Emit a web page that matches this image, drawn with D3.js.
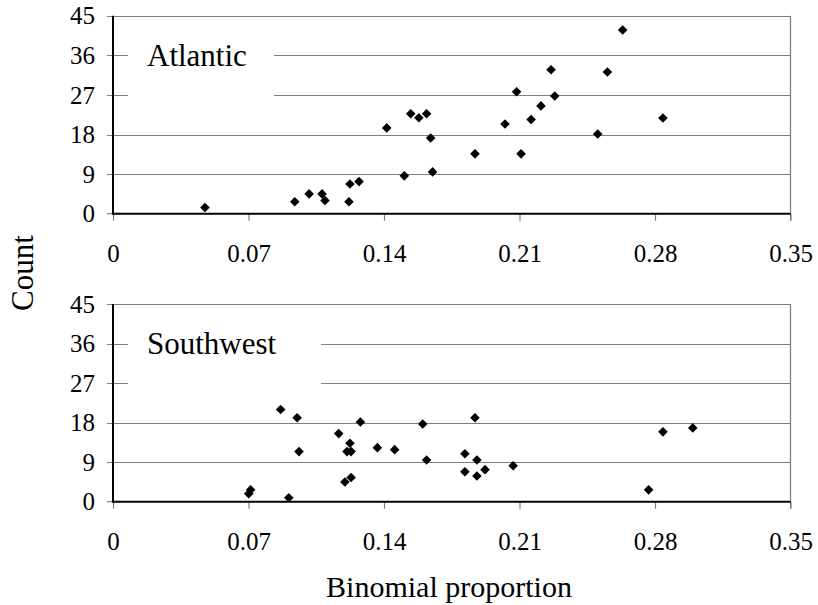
<!DOCTYPE html>
<html>
<head>
<meta charset="utf-8">
<script src="https://cdn.jsdelivr.net/npm/d3@7"></script>
</head>
<body style="margin:0">
<script>
// x = binomial proportion, y = count
var atlanticX = [0.0475, 0.0939, 0.1013, 0.108, 0.1095, 0.1219, 0.1224, 0.1271, 0.1414, 0.1505, 0.1538,
                 0.158, 0.162, 0.1641, 0.1651, 0.187, 0.2025, 0.2085, 0.2108, 0.216, 0.2211, 0.2263,
                 0.2282, 0.2504, 0.2554, 0.2633, 0.2841];
var atlanticY = [1.4, 2.7, 4.5, 4.5, 3.0, 2.7, 6.75, 7.3, 19.5, 8.6, 22.7,
                 21.8, 22.7, 17.2, 9.5, 13.6, 20.4, 27.7, 13.6, 21.4, 24.5, 32.7,
                 26.75, 18.1, 32.2, 41.75, 21.75];

var southwestX = [0.0701, 0.0711, 0.0866, 0.0908, 0.0951, 0.0961, 0.1166, 0.1198, 0.1209, 0.1224, 0.123,
                  0.123, 0.1278, 0.1366, 0.1455, 0.160, 0.162, 0.1818, 0.1818, 0.187, 0.188, 0.188,
                  0.1922, 0.2067, 0.2767, 0.2841, 0.2995];
var southwestY = [1.8, 2.7, 21.0, 0.9, 19.1, 11.4, 15.5, 4.5, 11.4, 13.3, 11.4,
                  5.5, 18.15, 12.3, 11.85, 17.7, 9.5, 10.9, 6.8, 19.1, 9.5, 5.85,
                  7.3, 8.2, 2.7, 15.9, 16.8];

var xTicks = [0, 0.07, 0.14, 0.21, 0.28, 0.35];
var yTicks = [0, 9, 18, 27, 36, 45];
var panelNames = ["Atlantic", "Southwest"];

var W = 818, H = 605;
var FONT = "'Liberation Serif'";
var svg = d3.select("body").append("svg").attr("width", W).attr("height", H);

var x = d3.scaleLinear().domain([0, 0.35]).range([113, 790.5]);

var panels = [
  { name: panelNames[0], xs: atlanticX, ys: atlanticY, top: 15.7, bottom: 213.7, boxRight: 274 },
  { name: panelNames[1], xs: southwestX, ys: southwestY, top: 304, bottom: 501.7, boxRight: 321 }
];

var diamond = d3.symbol().type(d3.symbolSquare).size(46);

panels.forEach(function(p) {
  var y = d3.scaleLinear().domain([0, 45]).range([p.bottom, p.top]);
  var g = svg.append("g");

  // gridlines (incl. top border) with short left ticks
  g.selectAll("line.grid").data(yTicks.slice(1)).enter().append("line")
    .attr("x1", 107).attr("x2", x(0.35))
    .attr("y1", function(d) { return Math.round(y(d)) + 0.5; })
    .attr("y2", function(d) { return Math.round(y(d)) + 0.5; })
    .attr("stroke", "#7f7f7f").attr("stroke-width", 1.2);

  // right border
  g.append("line")
    .attr("x1", x(0.35)).attr("x2", x(0.35))
    .attr("y1", y(45)).attr("y2", y(0) + 7)
    .attr("stroke", "#7f7f7f").attr("stroke-width", 1.2);

  // panel label with white box
  var lbl = g.append("g");
  lbl.append("rect")
    .attr("x", 128).attr("y", y(40)).attr("width", p.boxRight - 128).attr("height", y(21) - y(40))
    .attr("fill", "#fff");
  lbl.append("text")
    .attr("x", 147).attr("y", y(33.6))
    .attr("font-family", FONT)
    .attr("font-size", 31)
    .text(p.name);

  // x axis ticks and labels
  var xAxis = d3.axisBottom(x).tickValues(xTicks).tickSize(7).tickPadding(0)
    .tickFormat(function(d) { return d === 0 ? "0" : d3.format(".2f")(d); });
  var xa = g.append("g").attr("transform", "translate(0," + y(0) + ")").call(xAxis)
    .attr("font-family", FONT).attr("font-size", 25);
  xa.select(".domain").remove();
  xa.selectAll(".tick line").attr("stroke", "#7f7f7f").attr("stroke-width", 1.2);
  xa.selectAll(".tick text").attr("dy", null).attr("y", 48).attr("fill", "#000");

  // y tick labels
  var yAxis = d3.axisLeft(y).tickValues(yTicks).tickSize(0).tickPadding(0);
  var ya = g.append("g").attr("transform", "translate(95,0)").call(yAxis)
    .attr("font-family", FONT).attr("font-size", 25);
  ya.select(".domain").remove();
  ya.selectAll(".tick text").attr("dy", "0.33em").attr("fill", "#000");
  // tick mark at 0
  g.append("line").attr("x1", 107).attr("x2", x(0))
    .attr("y1", y(0)).attr("y2", y(0)).attr("stroke", "#7f7f7f").attr("stroke-width", 1.2);

  // axis lines
  g.append("line").attr("x1", x(0)).attr("x2", x(0)).attr("y1", y(45)).attr("y2", y(0) + 1)
    .attr("stroke", "#000").attr("stroke-width", 2);
  g.append("line").attr("x1", x(0)).attr("x2", x(0.35)).attr("y1", y(0)).attr("y2", y(0))
    .attr("stroke", "#000").attr("stroke-width", 2);

  // points
  g.selectAll("path.pt").data(d3.range(p.xs.length)).enter().append("path")
    .attr("class", "pt")
    .attr("d", diamond)
    .attr("transform", function(i) {
      return "translate(" + x(p.xs[i]) + "," + y(p.ys[i]) + ") rotate(45)";
    })
    .attr("fill", "#000");
});

svg.append("text")
  .attr("transform", "translate(33,273) rotate(-90)")
  .attr("text-anchor", "middle")
  .attr("font-family", FONT)
  .attr("font-size", 31)
  .text("Count");

svg.append("text")
  .attr("x", 449).attr("y", 597)
  .attr("text-anchor", "middle")
  .attr("font-family", FONT)
  .attr("font-size", 30)
  .text("Binomial proportion");
</script>
</body>
</html>
